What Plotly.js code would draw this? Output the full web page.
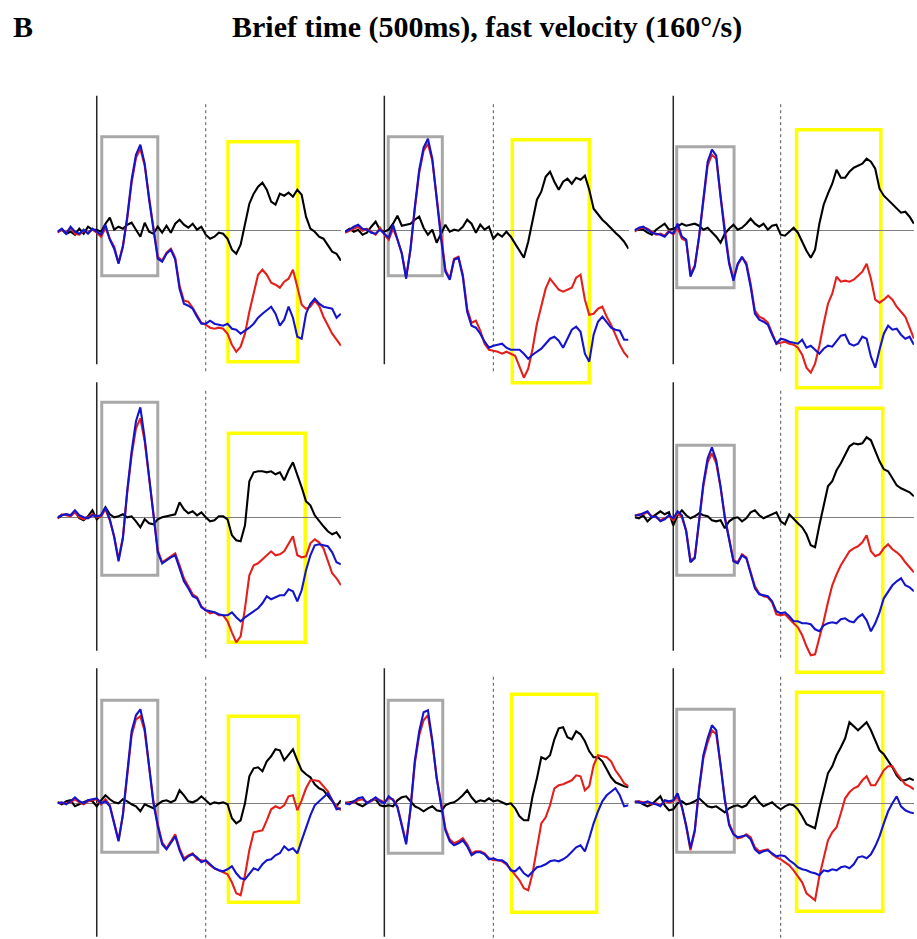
<!DOCTYPE html>
<html>
<head>
<meta charset="utf-8">
<script src="https://cdn.plot.ly/plotly-3.0.1.min.js"></script>
<style>
  html, body { margin: 0; padding: 0; background: #ffffff; }
  #chart { width: 917px; height: 939px; }
</style>
</head>
<body>
<div id="chart"></div>
<script>
// Sample times (ms relative to motion onset)
const timeMs = [-180, -160, -140, -120, -100, -80, -60, -40, -20, 0, 20, 40, 60, 80, 100, 120, 140, 160, 180, 200,
  220, 240, 260, 280, 300, 320, 340, 360, 380, 400, 420, 440, 460, 480, 500, 520, 540, 560, 580, 600,
  620, 640, 660, 680, 700, 720, 740, 760, 780, 800, 820, 840, 860, 880, 900, 920, 940, 960, 980, 1000,
  1020, 1040, 1060, 1080, 1100, 1120];

// Panel 1 (top left)
const p1Black = [-0.1, 0.1, -0.3, -0.1, -0.4, 0.2, -0.3, 0.4, 0.1, 0.1, -0.1, 0.7, 1.3, 0.1, 0.4, 0.2, 0.6, 0.8, 0.1, -0.6,
  0.8, -0.1, -0.3, 0.4, -0.2, 0.5, -0.2, 0.7, 1.1, 0.6, 0.3, 0.7, 0.1, 0.4, -0.4, -0.8, -0.6, -0.2, -0.3, -0.8,
  -1.9, -2.3, -1.4, 0.7, 2.7, 3.7, 4.4, 4.8, 4.1, 2.9, 2.6, 3.7, 3.5, 3.8, 3.4, 4.1, 3.6, 1.4, 0.2, -0.1,
  -0.6, -0.8, -1.4, -2.1, -2.3, -3.0];
const p1Red = [-0.2, 0.1, -0.2, 0.3, -0.3, -0.4, 0.0, -0.2, 0.1, -0.2, -0.6, 0.3, -0.8, -1.6, -3.2, -1.5, 1.2, 4.8, 7.3, 8.2,
  6.5, 3.2, 0.3, -2.6, -3.0, -2.2, -1.8, -2.7, -5.5, -7.0, -7.1, -7.7, -8.5, -9.2, -9.4, -9.7, -9.8, -9.7, -9.8, -10.3,
  -11.4, -12.1, -11.6, -10.3, -8.1, -6.1, -4.4, -3.9, -4.4, -5.2, -5.4, -5.7, -5.1, -4.8, -3.9, -5.6, -7.4, -7.8, -7.6, -7.0,
  -7.5, -8.6, -9.4, -10.3, -10.9, -11.5];
const p1Blue = [-0.1, 0.2, -0.3, 0.4, -0.1, -0.3, 0.1, -0.3, 0.2, -0.1, -0.4, 0.6, -0.9, -1.8, -3.3, -1.6, 1.4, 5.1, 7.6, 8.6,
  6.7, 3.1, 0.1, -2.8, -3.1, -2.3, -1.9, -2.9, -5.8, -7.3, -7.5, -7.8, -8.6, -9.3, -9.3, -9.0, -9.3, -9.4, -9.5, -9.3,
  -9.8, -9.9, -10.3, -10.0, -9.7, -9.3, -8.7, -8.3, -7.9, -7.6, -8.3, -9.5, -8.9, -7.6, -8.7, -10.6, -10.8, -8.3, -7.3, -6.8,
  -7.3, -7.6, -7.7, -7.8, -8.7, -8.3];

// Panel 2 (top middle)
const p2Black = [-0.1, 0.2, -0.1, 0.1, -0.4, -0.2, 0.4, 0.9, 0.1, -0.1, 0.1, 0.7, 1.5, 0.5, 0.6, 0.7, 1.1, 1.4, 0.3, -0.4,
  0.1, -1.2, -0.3, 0.6, -0.1, 0.1, 0.0, 0.4, 1.1, 0.7, -0.2, 0.6, 0.1, 0.4, -0.8, -0.3, -0.6, -0.1, -0.6, -1.3,
  -2.1, -2.7, -1.1, 1.1, 3.1, 3.9, 5.4, 5.9, 4.9, 4.1, 4.9, 5.2, 4.7, 5.3, 5.1, 5.5, 4.1, 2.2, 1.6, 1.1,
  0.7, 0.2, -0.2, -0.6, -1.1, -1.8];
const p2Red = [-0.2, 0.0, 0.2, 0.4, 0.0, 0.2, -0.1, -0.4, 0.3, -0.4, -0.9, 0.2, -0.9, -2.2, -4.6, -1.9, 2.2, 5.8, 8.0, 8.7,
  7.0, 3.2, -0.6, -3.9, -4.8, -2.8, -2.6, -4.4, -7.8, -9.2, -9.0, -10.0, -11.3, -11.9, -12.0, -12.1, -12.3, -12.1, -12.3, -12.5,
  -13.6, -14.7, -13.8, -11.8, -9.3, -7.4, -5.8, -4.8, -5.3, -5.9, -6.1, -5.9, -5.7, -4.7, -4.4, -6.9, -8.4, -8.3, -7.8, -7.6,
  -8.6, -9.4, -10.4, -11.4, -12.2, -12.7];
const p2Blue = [-0.1, 0.1, 0.4, 0.6, 0.2, 0.1, -0.2, -0.3, 0.1, -0.3, -0.7, 0.6, -0.8, -2.3, -4.8, -1.8, 2.4, 6.1, 8.3, 9.2,
  7.2, 3.1, -0.8, -4.1, -4.9, -2.9, -2.7, -4.6, -8.1, -9.5, -9.7, -10.3, -11.1, -11.7, -11.5, -11.4, -11.3, -11.7, -11.9, -11.9,
  -11.9, -12.3, -12.8, -12.4, -12.1, -11.8, -11.3, -10.8, -10.6, -11.0, -11.7, -10.8, -9.9, -9.6, -10.1, -12.3, -13.1, -10.4, -9.1, -8.6,
  -9.2, -9.7, -9.9, -10.0, -10.9, -10.9];

// Panel 3 (top right)
const p3Black = [0.1, 0.1, 0.1, -0.2, -0.4, 0.1, 0.4, 0.7, 0.1, 0.2, 0.4, 0.7, 0.5, 0.6, 0.7, 0.5, 0.1, 0.3, -0.1, -0.6,
  -1.2, -0.3, 0.2, 0.6, 0.1, 0.3, 0.7, 1.2, 0.7, 0.4, 0.7, 0.1, 0.5, 0.6, -0.4, -0.5, -0.1, 0.3, -0.2, -1.1,
  -2.0, -2.7, -1.9, 0.7, 2.6, 3.7, 4.7, 6.1, 5.3, 5.3, 5.9, 6.3, 6.5, 6.7, 7.2, 6.9, 6.2, 4.2, 3.5, 3.1,
  2.7, 2.2, 1.8, 1.9, 1.4, 0.7];
const p3Red = [-0.1, 0.2, 0.3, 0.2, -0.1, -0.4, -0.3, -0.5, 0.0, -0.4, 0.3, -0.8, -1.0, -4.3, -3.5, -0.7, 2.9, 6.5, 7.6, 7.2,
  3.5, -0.1, -3.1, -4.8, -3.4, -2.7, -3.2, -5.3, -8.0, -8.6, -8.8, -9.2, -10.2, -11.3, -11.2, -11.1, -11.3, -11.4, -11.7, -12.4,
  -13.7, -14.2, -13.3, -11.5, -9.3, -7.3, -6.3, -4.6, -5.1, -5.0, -5.1, -4.9, -4.5, -4.1, -3.3, -4.8, -6.9, -7.2, -6.9, -6.5,
  -6.9, -7.6, -8.1, -8.6, -9.7, -10.8];
const p3Blue = [0.0, 0.3, 0.4, 0.1, -0.2, -0.3, -0.4, -0.6, -0.1, -0.3, 0.7, -0.6, -0.9, -4.6, -3.6, -0.6, 3.1, 6.9, 8.1, 7.5,
  3.4, -0.3, -3.3, -5.0, -3.3, -2.6, -3.4, -5.6, -8.3, -8.9, -9.1, -9.4, -10.4, -11.3, -10.8, -10.9, -11.1, -11.2, -11.3, -10.9,
  -11.7, -11.5, -11.9, -12.3, -11.8, -11.5, -11.6, -11.0, -10.5, -10.4, -11.3, -11.5, -11.3, -10.6, -10.8, -12.6, -13.7, -11.9, -10.3, -9.5,
  -9.9, -9.8, -10.4, -10.8, -10.6, -11.4];

// Panel 4 (middle left)
const p4Black = [-0.1, 0.2, 0.3, 0.2, 0.6, -0.1, -0.3, 0.1, 0.7, -0.2, 0.2, 1.0, 0.3, 0.0, 0.1, 0.3, 0.0, 0.1, -0.4, -1.0,
  -0.2, -0.6, -0.7, -0.2, 0.0, 0.1, 0.2, 0.3, 1.5, 0.8, 0.4, 0.6, 0.2, 0.5, 0.0, -0.4, -0.3, 0.1, 0.1, -0.2,
  -1.8, -2.3, -2.4, -0.8, 3.6, 4.5, 4.6, 4.6, 4.5, 4.6, 4.3, 4.5, 3.7, 4.7, 5.5, 4.3, 3.0, 1.6, 1.2, 0.2,
  -0.4, -0.9, -1.4, -1.7, -1.5, -2.1];
const p4Red = [-0.1, 0.3, 0.2, 0.1, 0.5, 0.0, -0.2, 0.0, 0.3, 0.0, 0.1, 0.8, -0.3, -1.9, -4.2, -2.0, 2.5, 6.2, 8.9, 9.9,
  7.6, 4.0, 0.1, -3.3, -4.5, -4.2, -3.9, -3.6, -4.8, -6.1, -6.9, -7.7, -8.0, -8.9, -9.3, -9.6, -9.5, -9.8, -9.8, -10.4,
  -11.5, -12.5, -11.9, -9.1, -5.8, -4.8, -4.6, -4.2, -3.8, -3.4, -3.8, -3.7, -3.4, -2.6, -1.9, -3.8, -4.0, -3.9, -2.6, -2.2,
  -2.5, -3.1, -4.4, -5.6, -6.1, -6.8];
const p4Blue = [0.0, 0.2, 0.3, 0.2, 0.7, 0.2, 0.0, -0.1, 0.2, 0.1, 0.2, 1.0, -0.2, -2.0, -4.4, -2.1, 2.7, 6.6, 9.6, 11.0,
  7.9, 4.1, -0.1, -3.5, -4.6, -4.3, -4.0, -3.8, -5.0, -6.4, -7.1, -7.9, -8.1, -9.0, -9.3, -9.4, -9.5, -9.7, -9.8, -9.8,
  -9.5, -10.0, -10.4, -10.0, -9.7, -9.4, -9.1, -8.6, -7.9, -8.2, -8.0, -7.8, -7.8, -7.2, -7.4, -8.4, -7.3, -5.3, -3.8, -2.8,
  -2.7, -2.8, -2.9, -3.5, -4.5, -4.7];

// Panel 5 (middle right)
const p5Black = [0.0, -0.1, 0.2, -0.4, 0.0, 0.3, 0.6, 0.3, 0.5, -0.8, 0.2, 0.7, 0.2, -0.1, 0.1, 0.4, 0.2, 0.1, -0.3, -0.4,
  -0.3, -1.1, -0.4, -0.1, 0.0, -0.4, -0.1, 0.5, 0.7, 0.2, -0.1, 0.1, 0.3, 0.5, -0.4, -0.7, 0.3, -0.2, -0.6, -1.0,
  -1.7, -2.8, -3.0, -0.8, 1.1, 3.1, 3.6, 4.7, 5.4, 6.2, 7.1, 7.4, 7.3, 7.4, 8.0, 7.7, 6.7, 5.6, 4.8, 4.6,
  3.9, 3.2, 2.9, 2.7, 2.5, 2.1];
const p5Red = [0.1, 0.3, 0.3, 0.5, 0.1, 0.0, -0.3, -0.1, 0.1, -0.3, 0.4, 0.0, -1.3, -4.3, -4.0, -0.5, 3.1, 5.5, 6.4, 5.4,
  3.0, 0.1, -2.2, -4.3, -4.5, -3.7, -4.0, -5.4, -6.9, -7.6, -7.9, -8.0, -8.5, -9.7, -9.8, -9.7, -10.2, -10.6, -11.0, -11.8,
  -12.9, -13.8, -13.7, -12.1, -10.4, -8.5, -6.8, -5.7, -4.8, -4.1, -3.4, -3.1, -2.9, -2.5, -1.8, -3.4, -3.9, -3.7, -3.1, -2.7,
  -3.2, -3.5, -3.9, -4.5, -5.0, -5.5];
const p5Blue = [0.2, 0.2, 0.4, 0.6, 0.0, 0.1, -0.4, -0.2, 0.2, -0.1, 0.6, 0.2, -1.4, -4.5, -4.1, -0.4, 3.4, 5.9, 7.0, 5.7,
  3.1, -0.1, -2.3, -4.4, -4.6, -3.8, -4.1, -5.6, -7.1, -7.7, -7.8, -7.9, -8.4, -9.4, -9.6, -9.5, -9.9, -10.4, -10.4, -10.6,
  -10.6, -10.7, -11.2, -11.4, -10.8, -10.6, -10.5, -10.6, -10.2, -10.1, -10.4, -10.5, -10.0, -9.7, -10.3, -11.4, -10.6, -9.5, -8.1, -7.4,
  -6.8, -6.4, -6.1, -6.8, -7.0, -7.4];

// Panel 6 (bottom left)
const p6Black = [0.1, -0.1, 0.2, 0.3, -0.3, -0.1, 0.1, 0.3, 0.2, -0.3, 0.3, 0.8, 0.4, 0.1, 0.0, 0.4, 0.2, -0.1, -0.3, -0.8,
  -0.1, -0.3, -0.5, -0.1, 0.2, 0.3, 0.1, 0.3, 1.3, 0.8, 0.2, 0.1, 0.3, 0.7, 0.3, -0.1, 0.1, 0.0, 0.1, -0.1,
  -1.5, -2.0, -1.7, 0.0, 2.7, 3.5, 3.6, 3.2, 4.2, 4.7, 5.4, 5.3, 4.3, 4.8, 5.4, 4.3, 3.3, 2.9, 2.6, 1.9,
  1.5, 1.3, 0.8, 0.2, -0.3, 0.3];
const p6Red = [0.1, 0.0, 0.0, 0.1, 0.4, 0.1, -0.1, 0.2, 0.3, 0.4, -0.1, 0.4, -0.2, -1.9, -3.7, -1.2, 3.0, 6.8, 8.4, 8.7,
  7.2, 3.6, 0.2, -2.1, -3.9, -4.5, -3.8, -3.1, -4.5, -5.5, -5.2, -5.0, -5.6, -5.7, -5.8, -6.2, -6.5, -6.7, -6.9, -7.1,
  -7.9, -9.0, -9.2, -7.2, -4.7, -2.9, -2.8, -2.7, -1.7, -0.6, -0.3, -0.5, -0.2, 0.7, 0.8, -0.7, 0.3, 1.5, 2.3, 2.3,
  2.2, 1.7, 1.2, 0.3, -0.3, -0.7];
const p6Blue = [0.0, 0.1, -0.1, 0.2, 0.6, 0.2, 0.0, 0.3, 0.4, 0.5, 0.0, 0.2, -0.3, -2.1, -3.8, -1.1, 3.3, 7.2, 8.8, 9.4,
  7.5, 3.5, 0.0, -2.3, -4.1, -4.6, -3.9, -3.3, -4.7, -5.7, -5.3, -5.1, -5.4, -5.9, -5.7, -6.1, -6.5, -6.7, -6.8, -6.6,
  -6.3, -7.0, -7.5, -7.6, -7.1, -6.5, -6.7, -6.1, -5.7, -5.6, -5.2, -5.0, -4.3, -4.7, -4.5, -5.0, -3.7, -2.4, -1.2, -0.2,
  0.2, 0.6, 1.0, 0.3, -0.6, -0.5];

// Panel 7 (bottom middle)
const p7Black = [0.0, 0.1, 0.2, -0.1, -0.3, 0.0, 0.3, 0.4, -0.2, -0.3, -0.2, -0.3, 0.3, 0.6, 0.7, 0.2, -0.3, -0.5, -0.8, -0.5,
  -0.3, -0.7, -0.8, -0.2, 0.0, 0.1, 0.4, 0.8, 1.3, 0.6, 0.1, 0.3, 0.2, 0.5, 0.2, 0.3, 0.1, -0.1, 0.0, -0.5,
  -1.3, -1.7, -1.7, 0.7, 2.5, 4.6, 4.4, 4.8, 6.4, 7.5, 7.6, 6.6, 6.4, 7.2, 6.9, 6.2, 5.2, 4.6, 4.6, 4.2,
  3.4, 2.6, 2.1, 1.9, 1.7, 1.6];
const p7Red = [0.1, 0.0, 0.1, 0.3, 0.4, 0.1, 0.2, 0.5, 0.3, 0.1, 0.5, 0.4, -0.3, -2.2, -3.9, -0.6, 4.0, 6.8, 8.3, 8.8,
  6.1, 2.6, -0.1, -2.5, -3.6, -4.0, -3.8, -3.5, -4.1, -5.0, -4.8, -4.8, -5.0, -5.5, -5.7, -5.7, -5.8, -6.1, -6.6, -7.1,
  -7.7, -8.5, -8.7, -7.0, -4.3, -2.0, -1.4, -0.2, 1.5, 1.8, 1.9, 2.1, 2.3, 2.8, 2.7, 1.3, 1.7, 3.8, 4.8, 4.7,
  4.6, 4.2, 3.3, 2.7, 2.0, 1.7];
const p7Blue = [0.0, -0.1, 0.2, 0.5, 0.6, 0.0, 0.3, 0.6, 0.2, 0.0, 0.7, 0.3, -0.4, -2.3, -4.1, -0.5, 4.3, 7.2, 9.1, 9.3,
  6.3, 2.5, -0.3, -2.7, -3.8, -4.2, -4.0, -3.7, -4.3, -5.2, -4.9, -4.9, -5.1, -5.6, -5.5, -5.7, -5.7, -6.0, -6.7, -6.8,
  -6.4, -7.0, -7.3, -6.8, -6.4, -6.3, -6.1, -5.8, -5.7, -5.8, -5.6, -5.3, -4.8, -4.4, -4.2, -4.8, -3.5, -2.0, -0.8, 0.2,
  0.8, 1.2, 1.5, 0.8, -0.3, -0.2];

// Panel 8 (bottom right)
const p8Black = [0.1, 0.2, -0.1, -0.3, -0.1, 0.3, 0.7, -0.2, -0.7, -0.6, 0.0, 0.2, -0.1, 0.0, 0.2, 0.5, 0.1, -0.3, -0.4, -0.3,
  -0.6, -0.9, -0.5, -0.3, -0.2, -0.4, -0.2, 0.4, 0.7, 0.1, -0.3, -0.1, 0.1, -0.3, -0.6, -0.3, -0.1, -0.2, -0.6, -1.3,
  -2.1, -2.3, -2.5, -0.5, 1.3, 3.0, 3.7, 4.8, 5.6, 6.5, 8.1, 7.7, 7.3, 7.7, 8.1, 7.3, 6.2, 5.3, 4.9, 4.3,
  3.6, 2.8, 2.3, 2.3, 2.5, 2.3];
const p8Red = [0.1, 0.2, 0.1, 0.1, -0.1, 0.0, -0.2, 0.2, 0.1, 0.2, 0.7, -0.4, -2.3, -4.7, -2.8, 1.3, 4.5, 6.1, 7.3, 6.9,
  3.9, 0.4, -2.0, -3.0, -3.5, -3.4, -3.1, -3.4, -4.4, -4.8, -4.7, -4.6, -5.1, -5.4, -5.6, -5.9, -6.2, -6.7, -7.3, -7.9,
  -9.0, -9.4, -9.7, -7.3, -5.4, -3.7, -2.9, -2.4, -1.0, 0.5, 1.1, 1.5, 1.7, 2.3, 2.7, 1.8, 1.8, 2.5, 3.3, 3.7,
  3.7, 3.0, 2.4, 1.9, 1.7, 1.4];
const p8Blue = [0.2, 0.1, 0.0, 0.2, 0.0, -0.1, -0.3, 0.3, 0.2, 0.3, 1.0, -0.3, -2.2, -4.5, -2.7, 1.5, 4.8, 6.5, 7.8, 7.3,
  4.0, 0.3, -2.2, -3.1, -3.4, -3.3, -3.2, -3.6, -4.6, -5.0, -4.8, -4.7, -5.0, -5.3, -5.2, -5.3, -5.7, -6.0, -6.4, -6.6,
  -6.7, -6.9, -7.0, -7.2, -6.7, -6.8, -6.6, -6.7, -6.4, -6.3, -6.5, -6.1, -5.4, -5.3, -5.5, -5.1, -4.3, -3.3, -2.0, -0.8,
  0.0, 0.7, -0.3, -0.7, -0.9, -1.0];

const W = 917, H = 939;

// Grid geometry (pixels): column x-extents, row zero line and vertical extent
const colPx = [[57.5, 340.9], [345.1, 628.5], [634.6, 913.9]];
const rowPx = [
  { zero: 230.7, top: 92, bottom: 392 },
  { zero: 517.3, top: 378, bottom: 676 },
  { zero: 803.3, top: 664, bottom: 939 }
];
const pxPerUnit = 10;

// Each panel: grid slot, its three waveforms and the two analysis windows [t0, t1, yLow, yHigh]
const panels = [
  { row: 0, col: 0, black: p1Black, red: p1Red, blue: p1Blue, early: [23, 280, -4.5, 9.4], late: [602, 922, -13.1, 8.9] },
  { row: 0, col: 1, black: p2Black, red: p2Red, blue: p2Blue, early: [18, 266, -4.5, 9.4], late: [587, 940, -15.2, 9.1] },
  { row: 0, col: 2, black: p3Black, red: p3Red, blue: p3Blue, early: [16, 283, -5.7, 8.4], late: [574, 966, -15.7, 10.1] },
  { row: 1, col: 0, black: p4Black, red: p4Red, blue: p4Blue, early: [23, 280, -5.8, 11.5], late: [604, 956, -12.5, 8.4] },
  { row: 1, col: 2, black: p5Black, red: p5Red, blue: p5Blue, early: [16, 284, -5.8, 7.2], late: [574, 975, -15.5, 10.9] },
  { row: 2, col: 0, black: p6Black, red: p6Red, blue: p6Blue, early: [23, 280, -4.9, 10.3], late: [604, 925, -9.9, 8.7] },
  { row: 2, col: 1, black: p7Black, red: p7Red, blue: p7Blue, early: [18, 268, -5.0, 10.3], late: [584, 974, -10.9, 10.9] },
  { row: 2, col: 2, black: p8Black, red: p8Red, blue: p8Blue, early: [16, 284, -4.9, 9.4], late: [574, 975, -10.8, 11.1] }
];

const traceColors = { black: '#000000', red: '#e3201c', blue: '#1414cc' };
const titleFont = { family: 'Liberation Serif, Times New Roman, serif', size: 30, color: '#000000' };

const data = [];
const shapes = [];
const layout = {
  width: W, height: H,
  margin: { l: 0, r: 0, t: 0, b: 0, pad: 0 },
  paper_bgcolor: '#ffffff',
  plot_bgcolor: 'rgba(0,0,0,0)',
  showlegend: false,
  font: { family: 'Liberation Serif, Times New Roman, serif', color: '#000000' },
  annotations: [
    { text: '<b>B</b>', xref: 'paper', yref: 'paper', x: 11 / W, y: 1 - 26.5 / H,
      xanchor: 'left', yanchor: 'middle', showarrow: false, font: titleFont },
    { text: '<b>Brief time (500ms), fast velocity (160°/s)</b>', xref: 'paper', yref: 'paper', x: 487 / W, y: 1 - 26.5 / H,
      xanchor: 'center', yanchor: 'middle', showarrow: false, font: titleFont }
  ]
};

panels.forEach((p, i) => {
  const k = i + 1;
  const xName = k === 1 ? 'x' : 'x' + k;
  const yName = k === 1 ? 'y' : 'y' + k;
  const c = colPx[p.col];
  const r = rowPx[p.row];

  layout[k === 1 ? 'xaxis' : 'xaxis' + k] = {
    domain: [c[0] / W, c[1] / W],
    range: [timeMs[0], timeMs[timeMs.length - 1]],
    anchor: yName, visible: false, fixedrange: true
  };
  layout[k === 1 ? 'yaxis' : 'yaxis' + k] = {
    domain: [1 - r.bottom / H, 1 - r.top / H],
    range: [(r.zero - r.bottom) / pxPerUnit, (r.zero - r.top) / pxPerUnit],
    anchor: xName, fixedrange: true,
    showgrid: false, showline: false, showticklabels: false, ticks: '',
    zeroline: true, zerolinecolor: '#808080', zerolinewidth: 1
  };

  ['black', 'red', 'blue'].forEach(name => {
    data.push({
      type: 'scatter', mode: 'lines',
      x: timeMs, y: p[name],
      xaxis: xName, yaxis: yName,
      line: { color: traceColors[name], width: 2.1 },
      hoverinfo: 'skip'
    });
  });

  // motion onset (solid) and motion offset at 500 ms (dotted)
  shapes.push({ type: 'line', layer: 'below', xref: xName, yref: yName,
    x0: 0, x1: 0, y0: -13.35, y1: 13.5, line: { color: '#262626', width: 1.5 } });
  shapes.push({ type: 'line', layer: 'below', xref: xName, yref: yName,
    x0: 500, x1: 500, y0: -14.05, y1: 12.75, line: { color: '#555555', width: 1, dash: 'dot' } });

  // early (grey) and late (yellow) analysis windows
  shapes.push({ type: 'rect', layer: 'below', xref: xName, yref: yName,
    x0: p.early[0], x1: p.early[1], y0: p.early[2], y1: p.early[3],
    line: { color: '#a8a8a8', width: 3 }, fillcolor: 'rgba(0,0,0,0)' });
  shapes.push({ type: 'rect', layer: 'below', xref: xName, yref: yName,
    x0: p.late[0], x1: p.late[1], y0: p.late[2], y1: p.late[3],
    line: { color: '#ffff00', width: 3.5 }, fillcolor: 'rgba(0,0,0,0)' });
});

layout.shapes = shapes;

Plotly.newPlot('chart', data, layout, { staticPlot: true, displayModeBar: false });
</script>
</body>
</html>
